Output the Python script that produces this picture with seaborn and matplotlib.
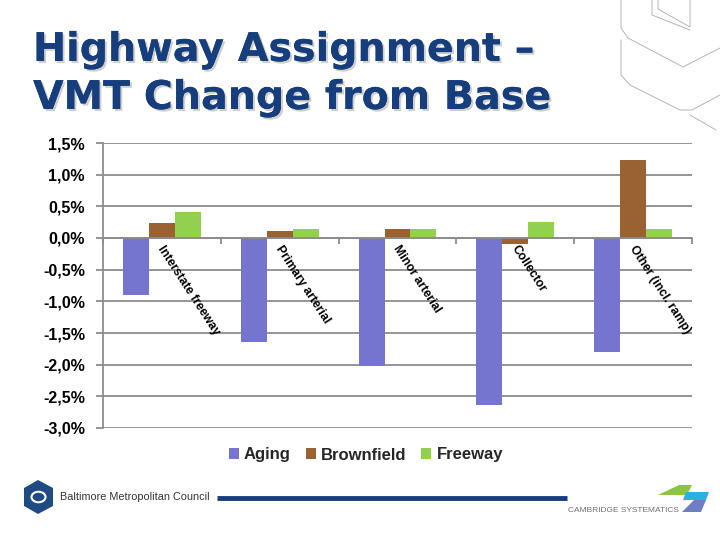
import numpy as np
import pandas as pd
import seaborn as sns
import matplotlib.pyplot as plt
import matplotlib.patheffects as pe
from matplotlib.patches import Polygon, Circle
from matplotlib.lines import Line2D

# === Datos ===
categorias = ["Interstate freeway", "Primary arterial", "Minor arterial",
              "Collector", "Other (incl. ramp)"]
escenarios = ["Aging", "Brownfield", "Freeway"]
aging = [-0.90, -1.64, -2.02, -2.63, -1.80]
brownfield = [0.24, 0.11, 0.15, -0.09, 1.23]
freeway = [0.41, 0.15, 0.15, 0.25, 0.15]
yticks = [1.5, 1.0, 0.5, 0.0, -0.5, -1.0, -1.5, -2.0, -2.5, -3.0]

colores = ["#7575CF", "#9A6232", "#92D050"]

df = pd.DataFrame({
    "categoria": categorias * 3,
    "escenario": [e for e in escenarios for _ in categorias],
    "valor": aging + brownfield + freeway,
})

sns.set_theme(style="white")
plt.rcParams["font.family"] = ["Liberation Sans", "DejaVu Sans"]

fig = plt.figure(figsize=(7.2, 5.4), dpi=100)
ax = fig.add_axes([103 / 720, 1 - 428 / 540, 589 / 720, 285 / 540])

sns.barplot(data=df, x="categoria", y="valor", hue="escenario",
            hue_order=escenarios, order=categorias, palette=colores,
            width=0.66, gap=0, saturation=1, linewidth=0, ax=ax)

# Ejes
ax.set_ylim(-3.0, 1.5)
ax.set_xlim(-0.5, len(categorias) - 0.5)
ax.set_yticks(yticks)
ax.set_yticklabels([f"{v:.1f}%".replace(".", ",") for v in yticks],
                   fontsize=11.5, fontweight="bold", color="black")
ax.set_xlabel("")
ax.set_ylabel("")
for v in yticks:
    ax.axhline(v, color="#8c8c8c", lw=1.3, zorder=0)
ax.spines["top"].set_visible(False)
ax.spines["right"].set_visible(False)
ax.spines["left"].set_color("#8c8c8c")
ax.spines["left"].set_linewidth(1.3)
ax.spines["bottom"].set_position(("data", 0))
ax.spines["bottom"].set_color("#8c8c8c")
ax.spines["bottom"].set_linewidth(1.3)
ax.tick_params(axis="y", direction="out", length=5, width=1.3, color="#8c8c8c", pad=8, left=True)
ax.set_xticks(np.arange(-0.5, len(categorias), 1.0))
ax.set_xticklabels([])
ax.tick_params(axis="x", direction="out", length=4, width=1.3, color="#8c8c8c", bottom=True)

# Etiquetas de categorías dentro del gráfico
for i, cat in enumerate(categorias):
    ax.text(i + 0.03, -0.08, cat, rotation=-57, rotation_mode="anchor",
            ha="left", va="top", fontsize=8.8, fontweight="bold", color="black")

# Leyenda
sns.move_legend(ax, "center", bbox_to_anchor=(366 / 720, 1 - 455 / 540),
                bbox_transform=fig.transFigure, ncol=3, frameon=False, title=None,
                fontsize=12, handlelength=0.6, handleheight=0.6, handletextpad=0.3,
                columnspacing=0.9)
for t in ax.get_legend().get_texts():
    t.set_fontweight("bold")

# Título
sombra = [pe.withSimplePatchShadow(offset=(1.5, -1.5), shadow_rgbFace="#cfcfcf", alpha=1), pe.Normal()]
for y, linea in [(61, "Highway Assignment –"), (109, "VMT Change from Base")]:
    fig.text(33 / 720, 1 - y / 540, linea, fontsize=28.5, fontweight="bold",
             color="#173E7C", family="DejaVu Sans", ha="left", va="baseline",
             path_effects=sombra)

# Logo decorativo arriba a la derecha
gris = "#b4b4b4"
trazos = [
    [(621, 0), (621, 28), (628, 38), (683, 67), (720, 48)],
    [(621, 40), (621, 75), (630, 85), (680, 110), (692, 110), (720, 95)],
    [(652, 0), (652, 15), (690, 30)],
    [(658, 0), (658, 9), (690, 27), (690, 0)],
    [(690, 115), (716, 130)],
]
for tr in trazos:
    xs, ys = zip(*tr)
    fig.add_artist(Line2D([x / 720 for x in xs], [1 - y / 540 for y in ys],
                          color=gris, lw=0.7, transform=fig.transFigure))

# Pie: Baltimore Metropolitan Council
hexa = [(38, 480), (53, 488), (53, 506), (38, 514), (24, 506), (24, 488)]
fig.add_artist(Polygon([(x / 720, 1 - y / 540) for x, y in hexa], closed=True,
                       facecolor="#1E4B84", edgecolor="none", transform=fig.transFigure))
fig.add_artist(Circle((38.5 / 720, 1 - 497 / 540), 7 / 720, facecolor="none",
                      edgecolor="white", lw=1.5, transform=fig.transFigure))
fig.text(60 / 720, 1 - 497 / 540, "Baltimore Metropolitan Council", fontsize=7.8,
         color="#333333", ha="left", va="center")
fig.add_artist(Line2D([217 / 720, 567 / 720], [1 - 498 / 540] * 2, color="#173E7C",
                      lw=3.5, solid_capstyle="butt", transform=fig.transFigure))

# Pie: Cambridge Systematics
fig.text(568 / 720, 1 - 510 / 540, "CAMBRIDGE SYSTEMATICS", fontsize=6,
         color="#707070", ha="left", va="center")
formas = [
    ([(679, 485), (692, 485), (687, 495), (658, 495)], "#8CC63F"),
    ([(686, 492), (709, 492), (706, 500), (683, 500)], "#2BB0E0"),
    ([(694, 500), (706, 500), (701, 512), (682, 512)], "#6D7EC4"),
]
for pts, c in formas:
    fig.add_artist(Polygon([(x / 720, 1 - y / 540) for x, y in pts], closed=True,
                           facecolor=c, edgecolor="none", transform=fig.transFigure))

plt.savefig("out.png", dpi=100)
plt.close()
